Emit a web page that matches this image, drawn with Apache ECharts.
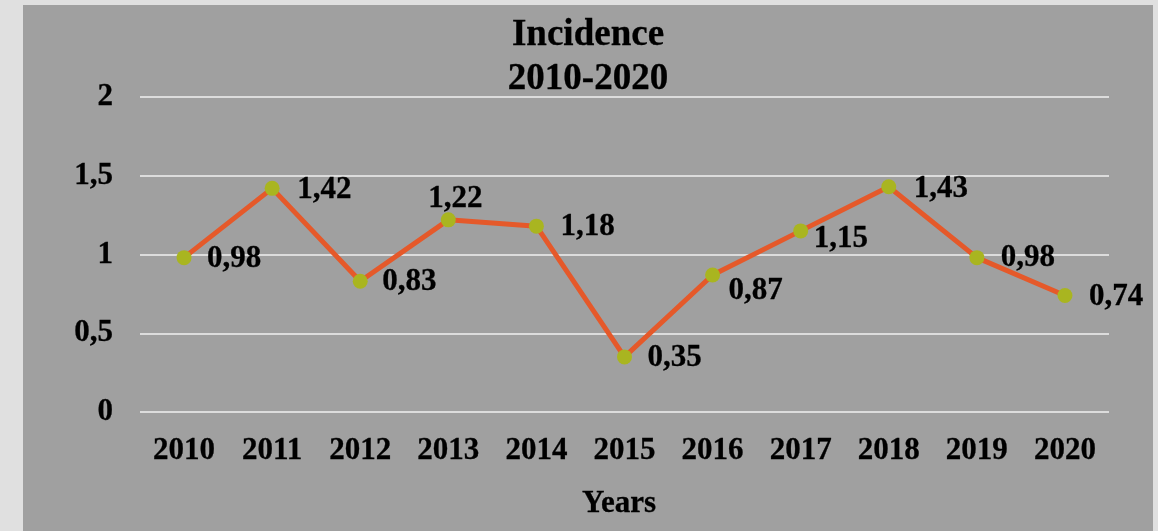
<!DOCTYPE html>
<html>
<head>
<meta charset="utf-8">
<title>Incidence 2010-2020</title>
<script src="https://cdn.jsdelivr.net/npm/echarts@6/dist/echarts.min.js"></script>
<style>
  html, body { margin: 0; padding: 0; background: #e0e0e0; width: 1158px; height: 531px; overflow: hidden; }
  #chart { position: absolute; left: 23px; top: 5px; width: 1130px; height: 526px; }
</style>
</head>
<body>
<div id="chart"></div>
<script>
// Yearly incidence values
const years = ['2010', '2011', '2012', '2013', '2014', '2015', '2016', '2017', '2018', '2019', '2020'];
const incidence = [0.98, 1.42, 0.83, 1.22, 1.18, 0.35, 0.87, 1.15, 1.43, 0.98, 0.74];
const yTicks = [0, 0.5, 1, 1.5, 2];

// Where each value label sits relative to its point: [align, dx, dy]
const labelPlacement = [
  ['left', 23, 1], ['left', 25, 2], ['left', 22, 1], ['center', 7, -21],
  ['left', 24, 1], ['left', 23, 1], ['left', 16, 16], ['left', 13, 8],
  ['left', 25, 2], ['left', 24, 0], ['left', 24, 2]
];

const FONT = '"Liberation Serif", "Times New Roman", serif';
const fmt = v => String(v).replace('.', ',');
// Thin stroke in the text colour for a slightly heavier bold
const heavy = { textBorderColor: '#000', textBorderWidth: 0.3 };

const seriesData = incidence.map((v, i) => ({
  value: v,
  label: {
    align: labelPlacement[i][0],
    offset: [labelPlacement[i][1], labelPlacement[i][2]]
  }
}));

const chart = echarts.init(document.getElementById('chart'), null, { renderer: 'canvas' });
chart.setOption({
  backgroundColor: '#a0a0a0',
  animation: false,
  title: [
    {
      text: 'Incidence\n2010-2020',
      left: 560,
      top: 3,
      textAlign: 'center',
      textStyle: Object.assign({ fontFamily: FONT, fontWeight: 'bold', fontSize: 37, lineHeight: 44, color: '#000' }, heavy)
    },
    {
      text: 'Years',
      left: 591,
      top: 478,
      textAlign: 'center',
      textStyle: Object.assign({ fontFamily: FONT, fontWeight: 'bold', fontSize: 31, color: '#000' }, heavy)
    }
  ],
  grid: { left: 117, right: 44, top: 92, bottom: 119, containLabel: false },
  xAxis: {
    type: 'category',
    data: years,
    boundaryGap: true,
    axisLine: { show: false },
    axisTick: { show: false },
    axisLabel: Object.assign({ fontFamily: FONT, fontWeight: 'bold', fontSize: 31, color: '#000', margin: 23 }, heavy)
  },
  yAxis: {
    type: 'value',
    min: yTicks[0],
    max: yTicks[yTicks.length - 1],
    interval: 0.5,
    axisLine: { show: false },
    axisTick: { show: false },
    splitLine: { lineStyle: { color: '#dcdcdc', width: 2 } },
    axisLabel: Object.assign({
      fontFamily: FONT, fontWeight: 'bold', fontSize: 31, color: '#000', margin: 27,
      formatter: v => fmt(v)
    }, heavy)
  },
  series: [{
    type: 'line',
    data: seriesData,
    symbol: 'circle',
    symbolSize: 15,
    lineStyle: { color: '#e5592a', width: 5 },
    itemStyle: { color: '#a9b520' },
    label: Object.assign({
      show: true,
      position: 'inside',
      verticalAlign: 'middle',
      fontFamily: FONT, fontWeight: 'bold', fontSize: 31, color: '#000',
      formatter: p => fmt(p.value)
    }, heavy),
    z: 3
  }]
});
</script>
</body>
</html>
